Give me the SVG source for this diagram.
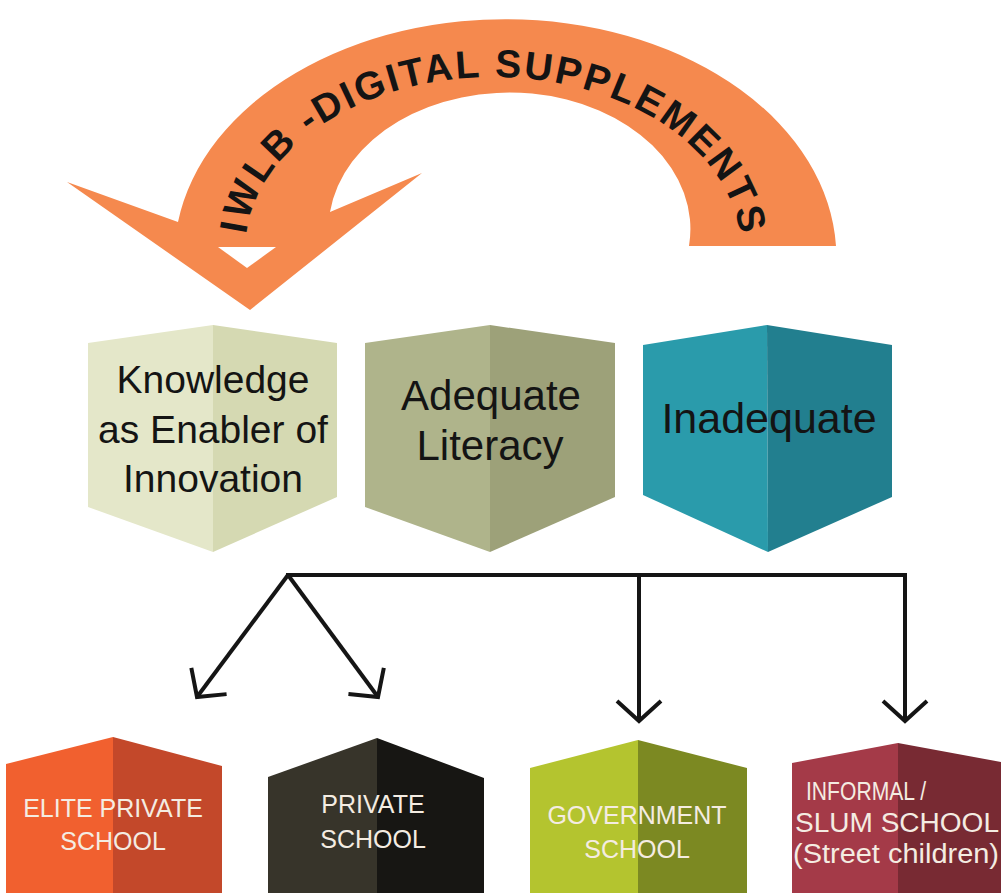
<svg xmlns="http://www.w3.org/2000/svg" xmlns:xlink="http://www.w3.org/1999/xlink" width="1001" height="893" viewBox="0 0 1001 893">
<style>
.top{font-family:"Liberation Sans",Arial,sans-serif;font-size:39px;fill:#141414;text-anchor:middle}
.bot{font-family:"Liberation Sans",Arial,sans-serif;font-size:25px;fill:#f4ece2;text-anchor:middle}
.arc{font-family:"Liberation Sans",Arial,sans-serif;font-size:39px;font-weight:bold;fill:#141414}
.conn{stroke:#151515;stroke-width:4;fill:none}
</style>
<defs>
<marker id="chev" markerUnits="userSpaceOnUse" viewBox="-24 -26 28 52" refX="0" refY="0" markerWidth="28" markerHeight="52" orient="auto">
<path d="M-20,-22 L0,0 L-20,22" fill="none" stroke="#151515" stroke-width="4"/>
</marker>
<path id="txtarc" d="M245,250 A248,173 0 0 1 741,250"/>
</defs>
<rect width="1001" height="893" fill="#ffffff"/>
<g id="big-arrow">
<path d="M836,246 A331,238 0 0 0 178,222 L67,182 L250,310 L422,173 L330,212 A179,135 0 0 1 689,246 Z" fill="#f5894e"/>
<polygon points="218,247 276,247 247,268" fill="#ffffff"/>
<text class="arc"><textPath xlink:href="#txtarc" href="#txtarc" startOffset="50%" text-anchor="middle" textLength="635" lengthAdjust="spacing">IWLB -DIGITAL SUPPLEMENTS</textPath></text>
</g>
<g id="knowledge">
<polygon points="213,325 88,343 88,507 213,552" fill="#e4e7c9"/>
<polygon points="213,325 337,343 337,497 213,552" fill="#d5d9b2"/>
<text class="top" x="213" y="393">Knowledge</text>
<text class="top" x="213" y="443">as Enabler of</text>
<text class="top" x="213" y="492">Innovation</text>
</g>
<g id="adequate">
<polygon points="490,325 365,343 365,507 490,552" fill="#afb48b"/>
<polygon points="490,325 615,343 615,497 490,552" fill="#9da179"/>
<text class="top" x="491" y="410" style="font-size:42px">Adequate</text>
<text class="top" x="490" y="460" style="font-size:42px">Literacy</text>
</g>
<g id="inadequate">
<polygon points="767,325 643,345 643,495 768,552" fill="#2a9bab"/>
<polygon points="767,325 892,345 892,497 768,552" fill="#227f8f"/>
<text class="top" x="769" y="433" style="font-size:43px">Inadequate</text>
</g>
<g id="connectors">
<path class="conn" d="M286,575 L907,575"/>
<path class="conn" d="M288,575 L197,697" marker-end="url(#chev)"/>
<path class="conn" d="M288,575 L378,697" marker-end="url(#chev)"/>
<path class="conn" d="M639,575 L639,721" marker-end="url(#chev)"/>
<path class="conn" d="M905,575 L905,721" marker-end="url(#chev)"/>
</g>
<g id="elite">
<polygon points="113,737 6,764 6,893 113,893" fill="#f1602f"/>
<polygon points="113,737 222,766 222,893 113,893" fill="#c3482a"/>
<text class="bot" x="113" y="817">ELITE PRIVATE</text>
<text class="bot" x="113" y="850">SCHOOL</text>
</g>
<g id="private">
<polygon points="377,738 268,777 268,893 377,893" fill="#37342a"/>
<polygon points="377,738 484,778 484,893 377,893" fill="#171613"/>
<text class="bot" x="373" y="813">PRIVATE</text>
<text class="bot" x="373" y="848">SCHOOL</text>
</g>
<g id="government">
<polygon points="638,740 530,768 530,893 638,893" fill="#b4c42f"/>
<polygon points="638,740 747,768 747,893 638,893" fill="#7c8922"/>
<text class="bot" x="637" y="824">GOVERNMENT</text>
<text class="bot" x="637" y="858">SCHOOL</text>
</g>
<g id="informal">
<polygon points="898,743 792,763 792,893 898,893" fill="#a43a48"/>
<polygon points="898,743 1001,762 1001,893 898,893" fill="#782a33"/>
<text class="bot" x="866" y="800" textLength="120" lengthAdjust="spacingAndGlyphs">INFORMAL /</text>
<text class="bot" x="897" y="832" style="font-size:27px" textLength="204" lengthAdjust="spacingAndGlyphs">SLUM SCHOOL</text>
<text class="bot" x="896" y="863" style="font-size:27px" textLength="206" lengthAdjust="spacingAndGlyphs">(Street children)</text>
</g>
</svg>
